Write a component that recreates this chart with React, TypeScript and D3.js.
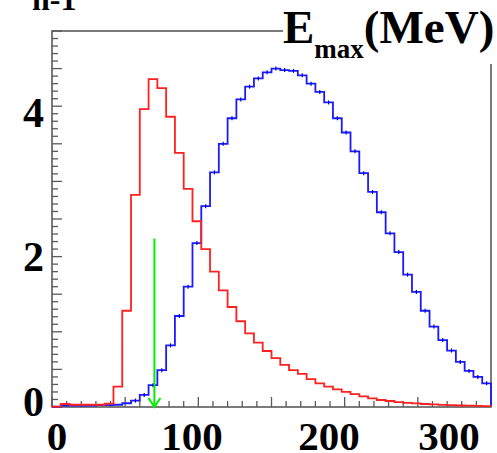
import React from "react";
import * as d3 from "d3";

// ---- data ----
const BIN_WIDTH = 6; // MeV
const X_MIN = 0;
const X_MAX = 300;
const Y_MAX = 5;

const redValues = [
  0.005, 0.04, 0.03, 0.03, 0.03, 0.03, 0.045, 0.27, 1.28, 2.82,
  3.96, 4.36, 4.24, 3.86, 3.38, 2.9, 2.47, 2.1, 1.8, 1.55,
  1.33, 1.14, 0.98, 0.855, 0.745, 0.65, 0.56, 0.49, 0.44, 0.37,
  0.315, 0.27, 0.235, 0.2, 0.17, 0.14, 0.115, 0.093, 0.08, 0.066,
  0.055, 0.047, 0.04, 0.034, 0.028, 0.024, 0.02, 0.017, 0.014, 0.012,
];

const blueValues = [
  0.005, 0.02, 0.02, 0.02, 0.02, 0.025, 0.025, 0.03, 0.05, 0.085,
  0.16, 0.29, 0.49, 0.82, 1.21, 1.6, 2.18, 2.67, 3.12, 3.5,
  3.84, 4.09, 4.26, 4.37, 4.45, 4.5, 4.48, 4.47, 4.41, 4.3,
  4.19, 4.05, 3.84, 3.65, 3.4, 3.11, 2.86, 2.59, 2.31, 2.06,
  1.76, 1.53, 1.28, 1.07, 0.89, 0.75, 0.6, 0.48, 0.4, 0.315,
];

const cutValue = 70; // MeV
const cutArrowTop = 2.24;

const xTickLabels = [0, 100, 200, 300];
const yTickLabels = [0, 2, 4];

const yTitle = "n-1";
const xTitleMain = "E";
const xTitleSub = "max";
const xTitleUnit = "(MeV)";

// ---- layout ----
const W = 497;
const H = 453;
const L = 52;
const R = 491;
const T = 31;
const B = 407;

const FONT = "'Liberation Serif', 'Times New Roman', Times, serif";
const AXIS = "#5a5a5a";

export default function App() {
  const x = d3.scaleLinear().domain([X_MIN, X_MAX]).range([L, R]);
  const y = d3.scaleLinear().domain([0, Y_MAX]).range([B, T]);
  // label placement as drawn in the figure
  const xLab = d3.scaleLinear().domain([0, 100, 200, 300]).range([57, 192, 329, 449]);
  const yLab = d3.scaleLinear().domain([0, 4]).range([401, 112]);

  const line = d3
    .line<[number, number]>()
    .x((d) => x(d[0]))
    .y((d) => y(d[1]));

  const histPts = (vals: number[]): [number, number][] => {
    const pts: [number, number][] = [[X_MIN, 0]];
    vals.forEach((v, i) => {
      pts.push([X_MIN + i * BIN_WIDTH, v]);
      pts.push([X_MIN + (i + 1) * BIN_WIDTH, v]);
    });
    pts.push([X_MIN + vals.length * BIN_WIDTH, 0]);
    return pts;
  };

  const xMinor = d3.range(X_MIN, X_MAX + 0.001, 10);
  const yMinor = d3.range(0, Y_MAX + 0.001, 0.1);

  const ax = x(cutValue);

  return (
    <svg
      width={W}
      height={H}
      style={{ position: "absolute", left: 0, top: 0, background: "#fff" }}
      fontFamily={FONT}
    >
      <rect x={0} y={0} width={W} height={H} fill="#fff" />
      {/* frame */}
      <rect x={L} y={T} width={R - L} height={B - T} fill="none" stroke={AXIS} strokeWidth={1.6} />
      {/* x ticks */}
      {xMinor.map((v, i) => {
        const major = Math.abs(v % 50) < 1e-6;
        return (
          <line key={"xt" + i} x1={x(v)} x2={x(v)} y1={B} y2={B - (major ? 10 : 6)} stroke={AXIS} strokeWidth={1.3} />
        );
      })}
      {/* y ticks */}
      {yMinor.map((v, i) => {
        const major = Math.abs(Math.round(v * 10) % 5) < 1e-6;
        return (
          <line key={"yt" + i} x1={L} x2={L + (major ? 10 : 6)} y1={y(v)} y2={y(v)} stroke={AXIS} strokeWidth={1.3} />
        );
      })}

      {/* histograms */}
      <path d={line(histPts(blueValues)) || ""} fill="none" stroke="#1a1aff" strokeWidth={1.8} />
      {blueValues.map((v, i) =>
        v > 0.05 ? (
          <line
            key={"eb" + i}
            x1={x(X_MIN + (i + 0.5) * BIN_WIDTH)}
            x2={x(X_MIN + (i + 0.5) * BIN_WIDTH)}
            y1={y(v) - 2}
            y2={y(v) + 2}
            stroke="#0000cc"
            strokeWidth={1.2}
          />
        ) : null
      )}
      <path d={line(histPts(redValues)) || ""} fill="none" stroke="#ff2020" strokeWidth={1.8} />

      {/* cut arrow */}
      <line x1={ax} x2={ax} y1={y(cutArrowTop)} y2={y(0)} stroke="#00ee00" strokeWidth={2} />
      <polyline
        points={`${ax - 6},${y(0) - 9} ${ax},${y(0)} ${ax + 6},${y(0) - 9}`}
        fill="none"
        stroke="#00ee00"
        strokeWidth={2}
      />

      {/* x labels */}
      {xTickLabels.map((v) => (
        <text key={"xl" + v} x={xLab(v)} y={450} textAnchor="middle" fontSize={41} fontWeight="bold" fill="#000">
          {v}
        </text>
      ))}
      {/* y labels */}
      {yTickLabels.map((v) => (
        <text key={"yl" + v} x={44} y={yLab(v)} dy="0.35em" textAnchor="end" fontSize={42} fontWeight="bold" fill="#000">
          {v}
        </text>
      ))}

      {/* y title (cut at top) */}
      <text x={32} y={10} fontSize={32} fontWeight="bold" fill="#000">
        {yTitle}
      </text>

      {/* x title box */}
      <rect x={283} y={0} width={W - 283} height={64} fill="#fff" />
      <text x={283} y={43} fontSize={47} fontWeight="bold" fill="#000">
        {xTitleMain}
        <tspan fontSize={27} dy={15}>{xTitleSub}</tspan>
        <tspan fontSize={47} dy={-15}>{xTitleUnit}</tspan>
      </text>
    </svg>
  );
}
